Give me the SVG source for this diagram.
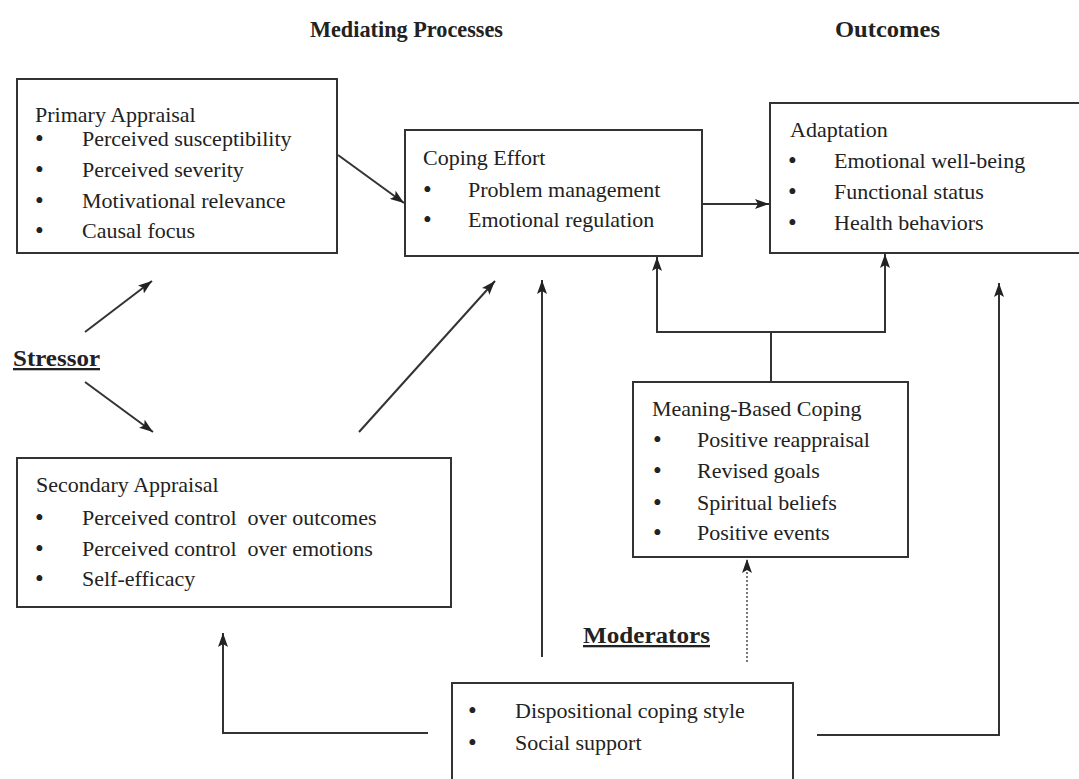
<svg xmlns="http://www.w3.org/2000/svg" width="1079" height="779" viewBox="0 0 1079 779">
<style>
  text { font-family: "Liberation Serif", "Times New Roman", serif; font-size: 22px; fill: #222; }
  .b { font-size: 25px; }
  .h { font-weight: bold; font-size: 23px; }
  .u { text-decoration: underline; }
  .box { fill: #fff; stroke: #333; stroke-width: 2; }
  .c { fill: none; stroke: #333; stroke-width: 2; }
  .dot { fill: none; stroke: #555; stroke-width: 1.6; stroke-dasharray: 2 2; }
</style>
<defs>
  <marker id="ah" markerUnits="userSpaceOnUse" markerWidth="14" markerHeight="10" refX="14" refY="5" orient="auto">
    <path d="M0,0 L14,5 L0,10 L3,5 Z" fill="#222"/>
  </marker>
</defs>
<rect width="1079" height="779" fill="#fff"/>

<g id="headings">
  <text class="h" x="310" y="37" textLength="193" lengthAdjust="spacingAndGlyphs">Mediating Processes</text>
  <text class="h" x="835" y="37" textLength="105" lengthAdjust="spacingAndGlyphs">Outcomes</text>
</g>

<g id="connectors">
  <line class="c" x1="338" y1="155" x2="404" y2="203" marker-end="url(#ah)"/>
  <line class="c" x1="702" y1="204" x2="769" y2="204" marker-end="url(#ah)"/>
  <line class="c" x1="85" y1="332" x2="152" y2="281" marker-end="url(#ah)"/>
  <line class="c" x1="85" y1="382" x2="153" y2="432" marker-end="url(#ah)"/>
  <line class="c" x1="359" y1="432" x2="495" y2="281" marker-end="url(#ah)"/>
  <line class="c" x1="542" y1="657" x2="542" y2="280" marker-end="url(#ah)"/>
  <line class="dot" x1="747" y1="662" x2="747" y2="559" marker-end="url(#ah)"/>
  <path class="c" d="M428,733 H223 V633" marker-end="url(#ah)"/>
  <path class="c" d="M817,735 H999 V283" marker-end="url(#ah)"/>
  <line class="c" x1="771" y1="382" x2="771" y2="332"/>
  <path class="c" d="M772,332 H657 V257" marker-end="url(#ah)"/>
  <path class="c" d="M770,332 H885 V254" marker-end="url(#ah)"/>
</g>

<g id="stressor">
  <text class="h u" x="13" y="366" textLength="87" lengthAdjust="spacingAndGlyphs">Stressor</text>
</g>

<g id="moderators-label">
  <text class="h u" x="583" y="643" textLength="127" lengthAdjust="spacingAndGlyphs">Moderators</text>
</g>

<g id="primary-appraisal">
  <rect class="box" x="17" y="79" width="320" height="174"/>
  <text x="35" y="122">Primary Appraisal</text>
  <text class="b" x="35" y="147">•</text><text x="82" y="146">Perceived susceptibility</text>
  <text class="b" x="35" y="178">•</text><text x="82" y="177">Perceived severity</text>
  <text class="b" x="35" y="209">•</text><text x="82" y="208">Motivational relevance</text>
  <text class="b" x="35" y="239">•</text><text x="82" y="238">Causal focus</text>
</g>

<g id="coping-effort">
  <rect class="box" x="405" y="130" width="297" height="126"/>
  <text x="423" y="165">Coping Effort</text>
  <text class="b" x="423" y="198">•</text><text x="468" y="197">Problem management</text>
  <text class="b" x="423" y="228">•</text><text x="468" y="227">Emotional regulation</text>
</g>

<g id="adaptation">
  <rect class="box" x="770" y="103" width="330" height="150"/>
  <text x="790" y="137">Adaptation</text>
  <text class="b" x="788" y="169">•</text><text x="834" y="168">Emotional well-being</text>
  <text class="b" x="788" y="200">•</text><text x="834" y="199">Functional status</text>
  <text class="b" x="788" y="231">•</text><text x="834" y="230">Health behaviors</text>
</g>

<g id="meaning-based-coping">
  <rect class="box" x="633" y="382" width="275" height="175"/>
  <text x="652" y="416">Meaning-Based Coping</text>
  <text class="b" x="653" y="448">•</text><text x="697" y="447">Positive reappraisal</text>
  <text class="b" x="653" y="479">•</text><text x="697" y="478">Revised goals</text>
  <text class="b" x="653" y="511">•</text><text x="697" y="510">Spiritual beliefs</text>
  <text class="b" x="653" y="541">•</text><text x="697" y="540">Positive events</text>
</g>

<g id="secondary-appraisal">
  <rect class="box" x="17" y="458" width="434" height="149"/>
  <text x="36" y="492">Secondary Appraisal</text>
  <text class="b" x="35" y="526">•</text><text x="82" y="525" xml:space="preserve">Perceived control  over outcomes</text>
  <text class="b" x="35" y="557">•</text><text x="82" y="556" xml:space="preserve">Perceived control  over emotions</text>
  <text class="b" x="35" y="587">•</text><text x="82" y="586">Self-efficacy</text>
</g>

<g id="moderators">
  <rect class="box" x="452" y="683" width="341" height="110"/>
  <text class="b" x="468" y="719">•</text><text x="515" y="718">Dispositional coping style</text>
  <text class="b" x="468" y="751">•</text><text x="515" y="750">Social support</text>
</g>
</svg>
